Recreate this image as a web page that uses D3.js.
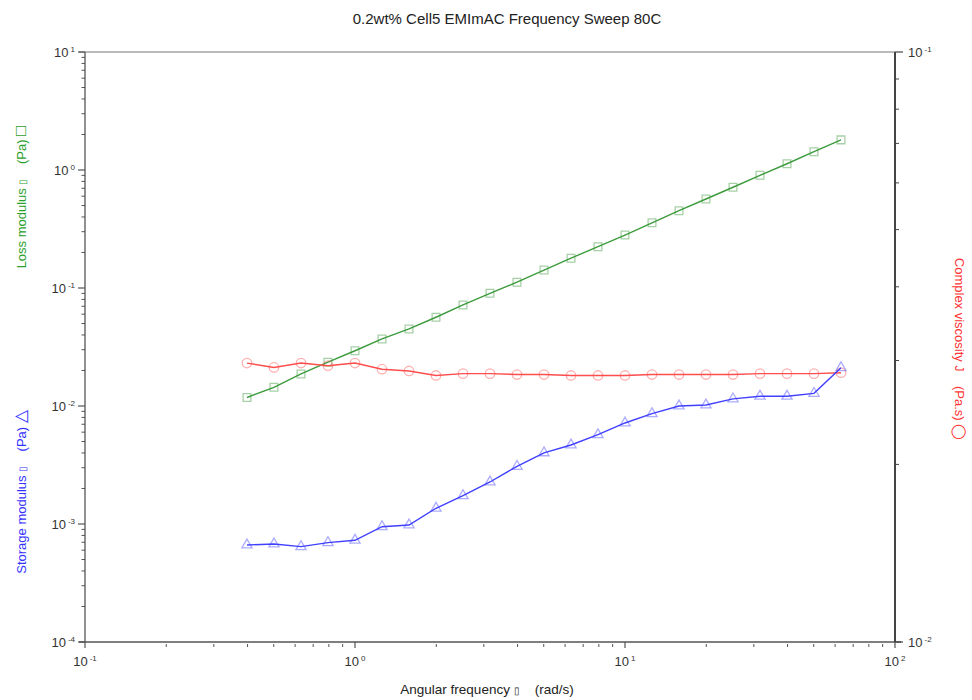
<!DOCTYPE html>
<html>
<head>
<meta charset="utf-8">
<script src="https://cdn.jsdelivr.net/npm/d3@7"></script>
<style>
  body { margin: 0; background: #fff; }
  text { font-family: "Liberation Sans", Arial, sans-serif; }
</style>
</head>
<body>
<script>
// datos (barrido de frecuencia)
const freq = [0.398, 0.501, 0.631, 0.794, 1.0, 1.259, 1.585, 1.995, 2.512, 3.162, 3.981, 5.012,
  6.31, 7.943, 10.0, 12.59, 15.85, 19.95, 25.12, 31.62, 39.81, 50.12, 63.1];
const lossMod = [0.0118, 0.0144, 0.0187, 0.0235, 0.0294, 0.0370, 0.0450, 0.0565, 0.0718, 0.0902,
  0.112, 0.142, 0.179, 0.224, 0.281, 0.357, 0.452, 0.568, 0.714, 0.902, 1.13, 1.43, 1.80];
const storageMod = [0.000664, 0.000677, 0.000643, 0.000695, 0.000728, 0.000949, 0.000981, 0.00136,
  0.00174, 0.00227, 0.00308, 0.00401, 0.00467, 0.00571, 0.00718, 0.00861, 0.0100, 0.0102,
  0.0115, 0.0121, 0.0121, 0.0128, 0.0211];
const viscosity = [0.0297, 0.0292, 0.0297, 0.0294, 0.0297, 0.0290, 0.0288, 0.0283, 0.0285, 0.0285,
  0.0284, 0.0284, 0.0283, 0.0283, 0.0283, 0.0284, 0.0284, 0.0284, 0.0284, 0.0285, 0.0285,
  0.0285, 0.0286];
const xTicks = [-1, 0, 1, 2];
const yLeftTicks = [-4, -3, -2, -1, 0, 1];
const yRightTicks = [-2, -1];

const width = 972, height = 700;
const mLeft = 85, mRight = 895, mTop = 52, mBottom = 642;
const axisColor = '#555';

const svg = d3.select('body').append('svg')
  .attr('width', width).attr('height', height);

const x = d3.scaleLog().domain([0.1, 100]).range([mLeft, mRight]);
const yL = d3.scaleLog().domain([1e-4, 10]).range([mBottom, mTop]);
const yR = d3.scaleLog().domain([0.01, 0.1]).range([mBottom, mTop]);

// titulo
svg.append('text')
  .attr('x', 507).attr('y', 24)
  .attr('text-anchor', 'middle')
  .style('font-size', '15px').style('fill', '#222')
  .text('0.2wt% Cell5 EMImAC Frequency Sweep 80C');

// etiqueta 10^n con exponente
function powLabel(g, px, py, e, anchor) {
  const t = g.append('text')
    .attr('x', px).attr('y', py)
    .attr('text-anchor', anchor)
    .style('fill', '#333');
  t.append('tspan').style('font-size', '13px').text('10');
  t.append('tspan').style('font-size', '8px').attr('dy', -5).attr('dx', 2).text(e);
}

// minor ticks de una escala log
function minorTicks(scale) {
  const out = [];
  const [a, b] = scale.domain();
  for (let p = Math.log10(a); p < Math.log10(b); p++) {
    for (let m = 2; m <= 9; m++) out.push(m * Math.pow(10, p));
  }
  return out;
}

const axes = svg.append('g');

// marco superior
axes.append('line')
  .attr('x1', mLeft - 6).attr('x2', mRight).attr('y1', mTop).attr('y2', mTop)
  .attr('stroke', '#777').attr('stroke-width', 1);

// eje izquierdo
axes.append('line')
  .attr('x1', mLeft).attr('x2', mLeft).attr('y1', mTop).attr('y2', mBottom)
  .attr('stroke', axisColor).attr('stroke-width', 1.3);
yLeftTicks.forEach(e => {
  const yy = yL(Math.pow(10, e));
  axes.append('line').attr('x1', mLeft - 7).attr('x2', mLeft).attr('y1', yy).attr('y2', yy)
    .attr('stroke', axisColor).attr('stroke-width', 1.2);
  powLabel(axes, 75, yy + 5, e, 'end');
});
minorTicks(yL).forEach(v => {
  axes.append('line').attr('x1', mLeft - 3.5).attr('x2', mLeft).attr('y1', yL(v)).attr('y2', yL(v))
    .attr('stroke', axisColor).attr('stroke-width', 1);
});

// eje inferior
axes.append('line')
  .attr('x1', mLeft - 6).attr('x2', mRight + 6).attr('y1', mBottom).attr('y2', mBottom)
  .attr('stroke', axisColor).attr('stroke-width', 1.3);
xTicks.forEach(e => {
  const xx = x(Math.pow(10, e));
  axes.append('line').attr('x1', xx).attr('x2', xx).attr('y1', mBottom).attr('y2', mBottom + 6)
    .attr('stroke', axisColor).attr('stroke-width', 1.2);
  powLabel(axes, xx, mBottom + 24, e, 'middle');
});
minorTicks(x).forEach(v => {
  axes.append('line').attr('x1', x(v)).attr('x2', x(v)).attr('y1', mBottom + 2).attr('y2', mBottom + 5)
    .attr('stroke', axisColor).attr('stroke-width', 1);
});

// eje derecho
axes.append('line')
  .attr('x1', mRight).attr('x2', mRight).attr('y1', mTop).attr('y2', mBottom)
  .attr('stroke', '#444').attr('stroke-width', 2);
yRightTicks.forEach(e => {
  const yy = yR(Math.pow(10, e));
  axes.append('line').attr('x1', mRight).attr('x2', mRight + 8).attr('y1', yy).attr('y2', yy)
    .attr('stroke', '#444').attr('stroke-width', 1.2);
  powLabel(axes, mRight + 13, yy + 5, e, 'start');
});
minorTicks(yR).forEach(v => {
  axes.append('line').attr('x1', mRight).attr('x2', mRight + 4).attr('y1', yR(v)).attr('y2', yR(v))
    .attr('stroke', '#444').attr('stroke-width', 1);
});

// titulos de ejes
const xt = svg.append('text')
  .attr('x', 487).attr('y', 694)
  .attr('text-anchor', 'middle')
  .attr('xml:space', 'preserve')
  .style('font-size', '13.5px').style('fill', '#222');
xt.append('tspan').text('Angular frequency ');
xt.append('tspan').style('font-size', '10px').text('\u25AF');
xt.append('tspan').text('    (rad/s)');

function sideLabel(px, py, rot, color, parts) {
  const t = svg.append('text')
    .attr('transform', `translate(${px},${py}) rotate(${rot})`)
    .attr('text-anchor', 'middle')
    .attr('xml:space', 'preserve')
    .style('fill', color).style('font-size', '13px');
  parts.forEach(p => t.append('tspan').style('font-size', p[1]).text(p[0]));
}
sideLabel(26, 197, -90, '#2ca02c',
  [['Loss modulus ', '13px'], ['\u25AF', '10px'], ['    (Pa) ', '13px'], ['\u25A1', '17px']]);
sideLabel(26, 492, -90, '#3333ff',
  [['Storage modulus ', '13px'], ['\u25AF', '10px'], ['    (Pa) ', '13px'], ['\u25B3', '17px']]);
sideLabel(955, 349, 90, '#ff3333',
  [['Complex viscosity ', '13px'], ['J', '12px'], ['    (Pa.s) ', '13px'], ['\u25EF', '14px']]);

// series
const series = [
  { vals: lossMod, y: yL, line: '#3d9b3d', mark: 'rgba(60,150,60,0.45)', sym: d3.symbolSquare, size: 60 },
  { vals: viscosity, y: yR, line: '#ff4d4d', mark: 'rgba(255,80,80,0.45)', sym: d3.symbolCircle, size: 70 },
  { vals: storageMod, y: yL, line: '#4040ff', mark: 'rgba(70,70,255,0.45)', sym: d3.symbolTriangle, size: 45 }
];

series.forEach(s => {
  const pts = freq.map((f, i) => [x(f), s.y(s.vals[i])]);
  svg.append('g').selectAll('path')
    .data(pts).enter().append('path')
    .attr('transform', d => `translate(${d[0]},${d[1]})`)
    .attr('d', d3.symbol().type(s.sym).size(s.size))
    .attr('fill', 'none')
    .attr('stroke', s.mark)
    .attr('stroke-width', 1.3);
  svg.append('path')
    .datum(pts)
    .attr('d', d3.line())
    .attr('fill', 'none')
    .attr('stroke', s.line)
    .attr('stroke-width', 1.4);
});
</script>
</body>
</html>
